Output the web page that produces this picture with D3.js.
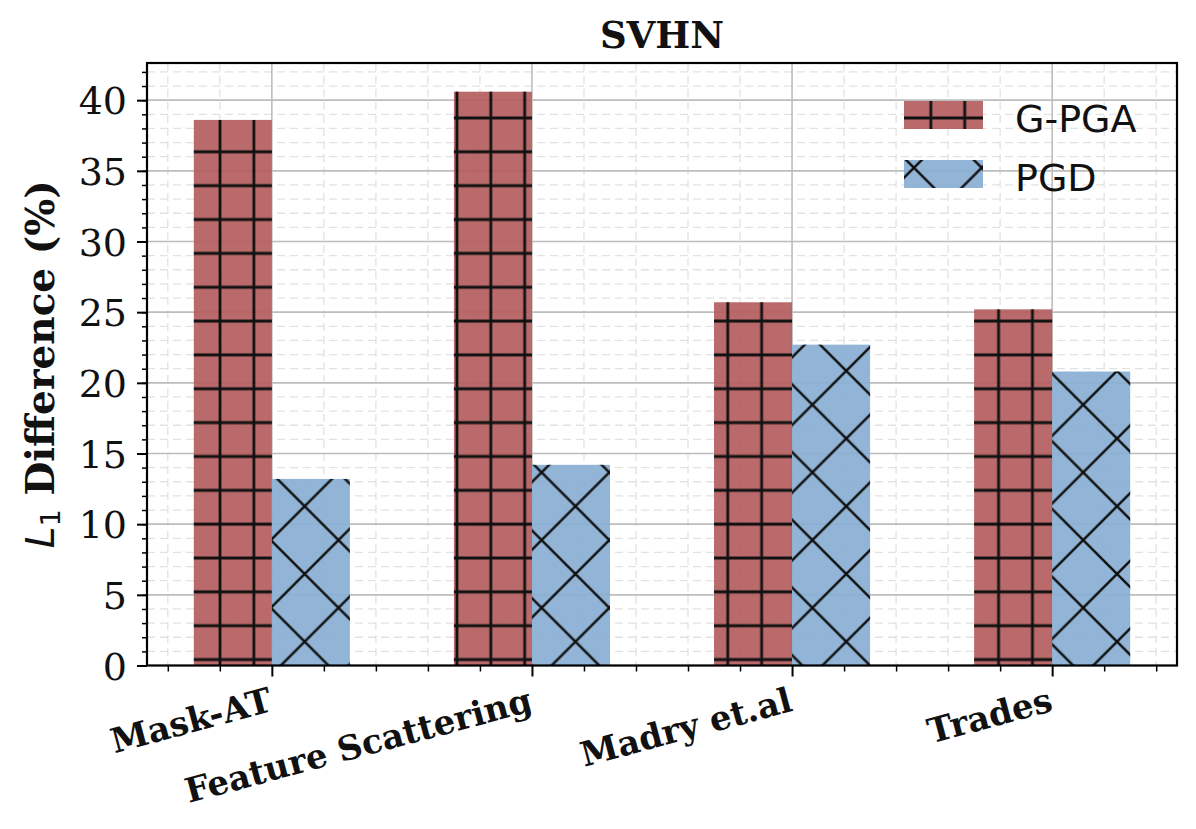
<!DOCTYPE html>
<html>
<head>
<meta charset="utf-8">
<script src="https://cdn.jsdelivr.net/npm/d3@7"></script>
<style>
  html, body { margin: 0; padding: 0; background: #fff; }
  svg { display: block; }
</style>
</head>
<body>
<svg id="chart" width="1196" height="829"></svg>
<script>
// ---- data ----
const categories = ["Mask-AT", "Feature Scattering", "Madry et.al", "Trades"];
const seriesNames = ["G-PGA", "PGD"];
const gpgaValues = [38.6, 40.6, 25.7, 25.2];
const pgdValues = [13.2, 14.2, 22.7, 20.8];
const yTickValues = [0, 5, 10, 15, 20, 25, 30, 35, 40];
const titleText = "SVHN";

// ---- layout ----
const W = 1196, H = 829;
const L = 147, R = 1177, T = 63, B = 665.5;
const barW = 0.3;

const svg = d3.select("#chart");
const x = d3.scaleLinear().domain([-0.3 - 0.18, 3.3 + 0.18]).range([L, R]);
const yMax = 40.6 * 1.05;
const y = d3.scaleLinear().domain([0, yMax]).range([B, T]);

// ---- patterns ----
const defs = svg.append("defs");
const tp = 33.85;
const pPlus = defs.append("pattern").attr("id", "hPlus")
  .attr("patternUnits", "userSpaceOnUse").attr("width", tp).attr("height", tp)
  .attr("x", 0).attr("y", -0.5);
pPlus.append("line").attr("x1", tp / 2).attr("x2", tp / 2).attr("y1", 0).attr("y2", tp)
  .attr("stroke", "#000").attr("stroke-width", 2.8);
pPlus.append("line").attr("y1", tp / 2).attr("y2", tp / 2).attr("x1", 0).attr("x2", tp)
  .attr("stroke", "#000").attr("stroke-width", 2.8);

const tx = 67.7;
const pX = defs.append("pattern").attr("id", "hX")
  .attr("patternUnits", "userSpaceOnUse").attr("width", tx).attr("height", tx)
  .attr("x", 0).attr("y", -1.5);
pX.append("path").attr("d", `M0,0L${tx},${tx}M0,${tx}L${tx},0M-2,${tx - 2}L2,${tx + 2}M${tx - 2},-2L${tx + 2},2M-2,2L2,-2M${tx - 2},${tx + 2}L${tx + 2},${tx - 2}`)
  .attr("stroke", "#000").attr("stroke-width", 2.5).attr("fill", "none");

// ---- grid ----
const grid = svg.append("g");
const xMinor = d3.range(-2, 18).map(i => i * 0.2).filter(v => Math.abs(v - Math.round(v)) > 1e-6);
const xMajor = d3.range(0, 4);
const yMinor = d3.range(0, 43).filter(v => v % 5 !== 0 && v < yMax);
grid.selectAll(".xmn").data(xMinor).join("line")
  .attr("x1", d => x(d)).attr("x2", d => x(d)).attr("y1", T).attr("y2", B)
  .attr("stroke", "#e2e2e2").attr("stroke-width", 1.3).attr("stroke-dasharray", "8,5");
grid.selectAll(".ymn").data(yMinor).join("line")
  .attr("x1", L).attr("x2", R).attr("y1", d => y(d)).attr("y2", d => y(d))
  .attr("stroke", "#e2e2e2").attr("stroke-width", 1.3).attr("stroke-dasharray", "8,5");
grid.selectAll(".xmj").data(xMajor).join("line")
  .attr("x1", d => x(d)).attr("x2", d => x(d)).attr("y1", T).attr("y2", B)
  .attr("stroke", "#bdbdbd").attr("stroke-width", 1.6);
grid.selectAll(".ymj").data(yTickValues).join("line")
  .attr("x1", L).attr("x2", R).attr("y1", d => y(d)).attr("y2", d => y(d))
  .attr("stroke", "#bdbdbd").attr("stroke-width", 1.6);

// ---- bars ----
const redFill = "#b55f60", blueFill = "#8ab0d4";
const barsG = svg.append("g");
const series = [
  { name: seriesNames[0], values: gpgaValues, off: -barW, fill: redFill, hatch: "url(#hPlus)" },
  { name: seriesNames[1], values: pgdValues, off: 0, fill: blueFill, hatch: "url(#hX)" }
];
series.forEach(s => {
  const g = barsG.append("g").attr("opacity", 0.93);
  g.selectAll("rect.f").data(s.values).join("rect")
    .attr("x", (d, i) => x(i + s.off)).attr("width", (d, i) => x(i + s.off + barW) - x(i + s.off))
    .attr("y", d => y(d)).attr("height", d => y(0) - y(d)).attr("fill", s.fill);
  g.selectAll("rect.h").data(s.values).join("rect")
    .attr("x", (d, i) => x(i + s.off)).attr("width", (d, i) => x(i + s.off + barW) - x(i + s.off))
    .attr("y", d => y(d)).attr("height", d => y(0) - y(d)).attr("fill", s.hatch);
});

// ---- axes ----
const yAxisMinor = d3.axisLeft(y).tickValues(d3.range(0, 43).filter(v => v < yMax)).tickSize(5).tickFormat("");
svg.append("g").attr("transform", `translate(${L},0)`).call(yAxisMinor)
  .call(g => g.select(".domain").remove())
  .call(g => g.selectAll("line").attr("stroke", "#000").attr("stroke-width", 1.5));
const yAxis = d3.axisLeft(y).tickValues(yTickValues).tickSize(10).tickPadding(10).tickFormat(d3.format("d"));
svg.append("g").attr("transform", `translate(${L},0)`).call(yAxis)
  .call(g => g.select(".domain").remove())
  .call(g => g.selectAll("line").attr("stroke", "#000").attr("stroke-width", 2))
  .call(g => g.selectAll("text").attr("font-family", "DejaVu Serif").attr("font-size", 38).attr("fill", "#111").attr("dy", "0.36em"));

const xAxisMinor = d3.axisBottom(x).tickValues(xMinor).tickSize(6).tickFormat("");
svg.append("g").attr("transform", `translate(0,${B})`).call(xAxisMinor)
  .call(g => g.select(".domain").remove())
  .call(g => g.selectAll("line").attr("stroke", "#000").attr("stroke-width", 1.5));
const xAxis = d3.axisBottom(x).tickValues(xMajor).tickSize(11).tickFormat("");
svg.append("g").attr("transform", `translate(0,${B})`).call(xAxis)
  .call(g => g.select(".domain").remove())
  .call(g => g.selectAll("line").attr("stroke", "#000").attr("stroke-width", 2));

// x tick labels (rotated, right aligned)
svg.append("g").selectAll("text").data(categories).join("text")
  .attr("transform", (d, i) => `translate(${x(i) + 2},${B + 45}) rotate(-15)`)
  .attr("text-anchor", "end")
  .attr("font-family", "DejaVu Serif").attr("font-weight", "bold").attr("font-size", 34)
  .attr("fill", "#111")
  .text(d => d);

// spines
svg.append("rect").attr("x", L).attr("y", T).attr("width", R - L).attr("height", B - T)
  .attr("fill", "none").attr("stroke", "#000").attr("stroke-width", 2.2);

// title
svg.append("text").attr("x", (L + R) / 2).attr("y", 48).attr("text-anchor", "middle")
  .attr("font-family", "DejaVu Serif").attr("font-weight", "bold").attr("font-size", 37)
  .attr("fill", "#111").text(titleText);

// y label
const yl = svg.append("text")
  .attr("transform", `translate(54,${(T + B) / 2}) rotate(-90)`)
  .attr("text-anchor", "middle").attr("fill", "#111").attr("font-size", 39);
yl.append("tspan").attr("font-family", "DejaVu Sans").attr("font-style", "italic").text("L");
yl.append("tspan").attr("font-family", "DejaVu Sans").attr("font-size", "0.7em").attr("dy", "0.22em").text("1");
yl.append("tspan").attr("font-family", "DejaVu Serif").attr("font-weight", "bold").attr("dy", "-0.154em").text(" Difference (%)");

// legend
const leg = svg.append("g");
const legY = [101, 160];
series.forEach((s, i) => {
  const g = leg.append("g").attr("opacity", 0.93);
  g.append("rect").attr("x", 904).attr("y", legY[i]).attr("width", 79).attr("height", 28).attr("fill", s.fill);
  g.append("rect").attr("x", 904).attr("y", legY[i]).attr("width", 79).attr("height", 28).attr("fill", s.hatch);
  leg.append("text").attr("x", 1015).attr("y", legY[i] + 31)
    .attr("font-family", "DejaVu Sans").attr("font-size", 38).attr("fill", "#111").text(s.name);
});
</script>
</body>
</html>
